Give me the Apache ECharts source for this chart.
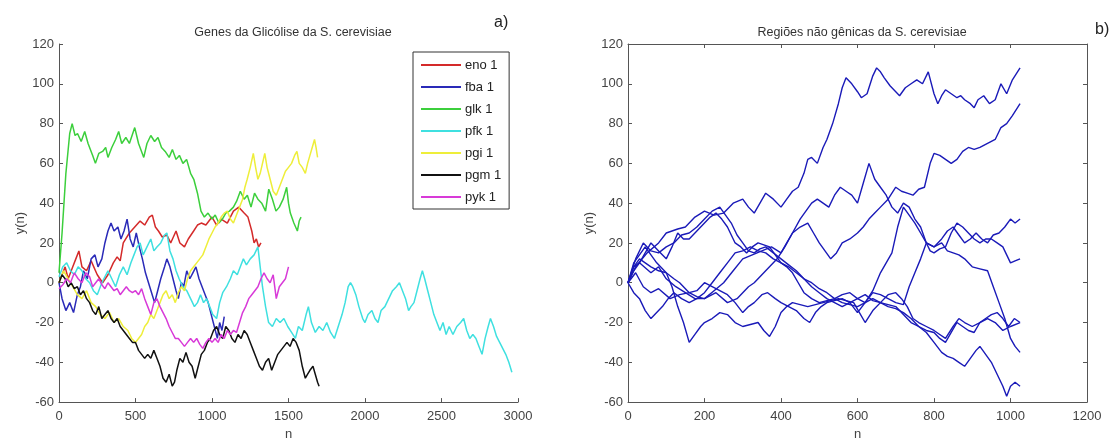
<!DOCTYPE html>
<html><head><meta charset="utf-8">
<script src="https://cdn.jsdelivr.net/npm/echarts@6/dist/echarts.min.js"></script>
<style>html,body{margin:0;padding:0;background:#fff}#c{width:1111px;height:446px}</style>
</head><body><div id="c"></div>
<script>
// ---- left panel: glycolysis genes (n, y(n)) ----
const seriesNamesLeft = ['eno 1','fba 1','glk 1','pfk 1','pgi 1','pgm 1','pyk 1'];
const eno = [[0,0],[20,4],[40,8],[60,2],[85,7],[110,12],[130,16],[150,8],[180,6],[210,11],[250,4],[285,0],[320,4],[355,10],[380,13],[400,11],[420,20],[460,25],[495,28],[530,31],[560,29],[590,33],[610,34],[630,28],[650,26],[675,23],[705,24],[730,20],[765,26],[790,20],[820,18],[845,22],[880,26],[905,29],[930,30],[960,29],[1000,33],[1030,29],[1060,32],[1100,30],[1140,36],[1175,38],[1210,35],[1235,33],[1260,26],[1275,20],[1290,22],[1305,18],[1320,20]];
const fba = [[0,0],[20,-8],[45,-14],[70,-10],[95,-15],[120,-6],[140,-2],[160,6],[185,2],[210,12],[235,14],[255,8],[280,12],[300,20],[320,26],[340,30],[360,26],[385,28],[405,22],[425,26],[445,32],[465,22],[485,18],[505,25],[525,18],[545,12],[565,5],[585,0],[605,-5],[625,-10],[645,-4],[665,2],[690,8],[705,12],[725,8],[745,2],[765,-4],[780,-8],[800,0],[815,-2],[835,6],[855,2],[875,5],[895,8],[915,2],[935,-2],[955,-6],[975,-10],[995,-16],[1015,-22],[1035,-28],[1050,-20],[1065,-24],[1080,-17]];
const glk = [[0,5],[20,25],[45,55],[70,75],[86,80],[105,74],[121,75],[145,71],[168,76],[190,70],[203,71],[220,64],[238,60],[260,65],[285,66],[305,68],[320,63],[345,68],[370,72],[390,76],[410,70],[437,73],[460,70],[495,78],[520,70],[554,63],[575,70],[600,74],[625,71],[647,73],[670,68],[694,66],[720,63],[741,67],[765,62],[787,64],[810,60],[834,62],[860,55],[881,52],[905,45],[928,36],[950,33],[974,35],[1000,32],[1021,34],[1045,30],[1068,32],[1090,35],[1114,36],[1140,38],[1161,41],[1185,46],[1210,42],[1231,44],[1255,38],[1278,45],[1300,42],[1325,40],[1350,36],[1371,47],[1395,42],[1418,36],[1440,38],[1465,42],[1488,48],[1500,40],[1512,35],[1535,30],[1558,26],[1570,31],[1582,33]];
const pfk = [[0,3],[25,8],[50,10],[75,6],[100,4],[125,8],[150,6],[175,2],[200,0],[225,-4],[250,-6],[280,0],[300,3],[320,6],[345,2],[370,-2],[395,4],[420,8],[445,4],[470,10],[490,14],[510,18],[530,20],[550,14],[575,18],[600,22],[620,16],[640,18],[665,20],[690,24],[705,25],[725,16],[745,12],[765,6],[785,2],[810,-2],[835,-4],[860,-8],[885,-12],[905,-10],[925,-6],[945,-10],[965,-8],[985,-12],[1005,-16],[1030,-18],[1050,-10],[1070,-5],[1095,-2],[1120,2],[1140,6],[1165,4],[1185,8],[1205,12],[1225,9],[1250,12],[1275,14],[1300,18],[1315,8],[1330,-2],[1350,-12],[1370,-20],[1395,-22],[1420,-18],[1445,-20],[1470,-18],[1495,-22],[1520,-25],[1545,-28],[1565,-22],[1590,-24],[1615,-16],[1630,-12],[1650,-20],[1675,-25],[1700,-22],[1725,-24],[1750,-20],[1775,-25],[1800,-28],[1825,-22],[1850,-16],[1870,-10],[1890,-2],[1905,0],[1920,-2],[1940,-6],[1960,-12],[1985,-18],[2000,-20],[2020,-16],[2045,-14],[2065,-18],[2085,-20],[2105,-14],[2130,-12],[2155,-8],[2180,-4],[2205,-2],[2225,0],[2245,-4],[2265,-8],[2285,-14],[2300,-12],[2320,-10],[2340,-4],[2360,2],[2375,6],[2390,2],[2410,-4],[2430,-10],[2450,-16],[2470,-20],[2490,-24],[2510,-20],[2530,-26],[2550,-22],[2575,-26],[2600,-22],[2625,-20],[2645,-18],[2665,-24],[2685,-28],[2705,-26],[2725,-28],[2745,-32],[2765,-36],[2785,-28],[2805,-22],[2820,-18],[2840,-22],[2860,-27],[2880,-30],[2900,-33],[2920,-36],[2940,-40],[2960,-45]];
const pgi = [[0,0],[30,6],[60,2],[90,-2],[120,-6],[150,-8],[180,-4],[210,-10],[240,-12],[270,-16],[300,-18],[330,-15],[360,-20],[390,-18],[420,-22],[450,-24],[475,-28],[500,-30],[520,-28],[540,-26],[560,-22],[580,-20],[600,-16],[620,-18],[640,-14],[660,-10],[680,-6],[700,-4],[720,-8],[740,-6],[760,-10],[780,-5],[800,-2],[820,-4],[840,2],[860,6],[880,8],[900,10],[920,12],[940,14],[960,18],[980,22],[1000,25],[1020,28],[1040,30],[1060,33],[1080,35],[1100,36],[1120,32],[1140,30],[1160,34],[1180,38],[1200,42],[1215,48],[1230,52],[1250,58],[1270,65],[1285,58],[1300,52],[1315,55],[1330,60],[1345,65],[1360,58],[1380,52],[1400,46],[1420,44],[1440,48],[1460,52],[1480,56],[1500,58],[1520,60],[1540,64],[1555,66],[1570,60],[1590,58],[1610,55],[1625,60],[1640,64],[1655,68],[1670,72],[1680,68],[1690,63]];
const pgm = [[0,0],[20,4],[40,2],[60,-2],[80,0],[100,-3],[120,-2],[140,-6],[160,-4],[180,-8],[200,-10],[220,-14],[240,-16],[260,-12],[280,-18],[300,-16],[320,-14],[340,-18],[360,-20],[380,-18],[400,-22],[420,-24],[440,-26],[460,-28],[480,-30],[500,-30],[520,-34],[540,-36],[560,-38],[580,-36],[600,-38],[620,-34],[640,-38],[660,-42],[680,-48],[700,-50],[720,-46],[740,-52],[755,-50],[770,-44],[790,-38],[810,-40],[830,-35],[850,-40],[870,-42],[890,-48],[910,-42],[930,-36],[950,-34],[970,-30],[990,-28],[1010,-24],[1030,-22],[1050,-26],[1070,-28],[1090,-22],[1110,-24],[1130,-28],[1150,-30],[1170,-26],[1190,-28],[1210,-24],[1230,-26],[1250,-30],[1270,-34],[1290,-38],[1310,-42],[1330,-44],[1350,-40],[1370,-38],[1390,-44],[1410,-40],[1430,-36],[1450,-34],[1470,-32],[1490,-30],[1510,-32],[1530,-28],[1550,-30],[1570,-34],[1590,-42],[1610,-48],[1625,-46],[1640,-44],[1660,-42],[1675,-46],[1690,-50],[1700,-52]];
const pyk = [[0,-3],[25,-1],[50,2],[75,0],[100,5],[125,2],[150,0],[175,5],[200,3],[220,-2],[240,0],[260,2],[280,-1],[300,-3],[320,0],[340,-2],[360,-4],[380,-3],[400,-6],[420,-4],[440,-2],[460,-4],[480,-5],[500,-4],[520,-6],[540,-3],[560,-8],[580,-12],[600,-16],[620,-10],[640,-8],[660,-12],[680,-15],[700,-18],[720,-22],[740,-25],[760,-28],[780,-28],[800,-30],[820,-32],[840,-30],[860,-28],[880,-30],[900,-28],[920,-31],[940,-33],[960,-30],[980,-28],[1000,-30],[1020,-28],[1040,-30],[1060,-26],[1080,-28],[1100,-24],[1120,-26],[1140,-24],[1160,-25],[1180,-20],[1200,-15],[1220,-12],[1240,-8],[1260,-6],[1280,-4],[1300,-2],[1320,2],[1340,5],[1360,2],[1380,0],[1400,4],[1420,-8],[1440,-2],[1460,0],[1480,2],[1500,8]];
const colorsLeft = ['#d42a2a','#2a2ab8','#3ccf3c','#3fe0e0','#eeee3a','#111111','#d83ad8'];

// ---- right panel: non-genic regions ----
const r1 = [[0,0],[20,8],[50,15],[80,20],[100,25],[130,27],[150,28],[175,33],[200,36],[225,34],[250,35],[275,40],[300,42],[315,38],[330,35],[345,40],[360,45],[380,42],[400,38],[415,42],[430,46],[445,48],[460,55],[470,62],[480,63],[495,60],[510,68],[520,72],[535,80],[550,90],[560,98],[570,103],[585,100],[600,96],[610,93],[625,95],[640,104],[650,108],[660,106],[670,103],[685,99],[700,96],[710,94],[725,98],[740,100],[755,102],[770,100],[785,106],[800,95],[810,90],[820,94],[830,97],[845,95],[860,93],[870,94],[880,92],[895,90],[905,88],[915,92],[930,94],[945,90],[960,92],[975,100],[990,95],[1005,102],[1025,108]];
const r2 = [[0,0],[15,8],[30,10],[60,5],[80,8],[100,2],[125,-2],[150,-5],[175,-8],[200,-8],[225,-4],[250,0],[275,6],[300,12],[325,14],[350,16],[375,18],[400,15],[415,20],[430,25],[450,28],[470,30],[485,25],[500,20],[515,16],[530,12],[545,15],[560,20],[580,22],[600,25],[615,28],[630,32],[645,35],[660,38],[680,42],[700,48],[715,46],[730,45],[745,44],[760,47],[775,48],[790,60],[800,65],[815,64],[830,62],[845,60],[860,62],[875,66],[890,68],[905,67],[920,68],[940,70],[960,72],[975,78],[990,80],[1005,84],[1025,90]];
const r3 = [[0,0],[20,5],[40,-2],[60,-5],[80,-3],[110,-8],[135,-6],[160,-5],[180,-7],[200,-8],[230,-5],[260,-10],[285,-8],[300,-5],[315,-2],[330,0],[350,4],[370,8],[390,12],[410,18],[430,25],[450,32],[465,36],[480,40],[495,42],[510,40],[525,38],[540,44],[555,48],[570,46],[585,44],[600,40],[615,50],[630,60],[645,52],[660,48],[675,44],[690,38],[705,35],[720,40],[735,38],[750,32],[765,28],[780,20],[800,18],[820,20],[835,16],[850,15],[865,14],[880,12],[900,8],[920,7],[940,6],[955,-2],[970,-10],[985,-18],[1000,-28],[1012,-32],[1025,-35]];
const r4 = [[0,0],[15,10],[30,14],[45,18],[60,14],[75,10],[100,5],[120,2],[135,0],[160,-5],[180,-4],[200,0],[220,-2],[240,-4],[260,-6],[280,-10],[300,-15],[315,-12],[330,-10],[350,-6],[365,-5],[385,-8],[400,-10],[420,-12],[440,-14],[460,-18],[475,-20],[490,-15],[505,-12],[520,-10],[540,-9],[560,-8],[580,-10],[600,-15],[620,-10],[640,-5],[660,-6],[680,-8],[700,-10],[720,-11],[735,-2],[750,5],[765,12],[780,20],[800,18],[820,22],[835,26],[850,28],[865,24],[880,20],[895,22],[910,25],[925,22],[940,20],[955,24],[970,25],[985,28],[1000,32],[1012,30],[1025,32]];
const r5 = [[0,0],[15,6],[30,10],[45,15],[60,20],[80,16],[100,12],[115,18],[130,25],[145,22],[160,22],[180,26],[200,30],[215,33],[230,35],[245,32],[260,28],[270,24],[280,20],[295,18],[310,15],[325,18],[340,20],[355,19],[370,18],[385,14],[400,10],[415,8],[430,5],[445,0],[460,-5],[480,-8],[500,-10],[520,-9],[540,-8],[560,-6],[580,-5],[600,-8],[620,-10],[640,-4],[660,5],[675,10],[690,15],[705,28],[720,38],[735,34],[750,30],[765,25],[780,20],[790,16],[800,15],[815,17],[830,18],[845,25],[860,30],[875,28],[890,25],[905,22],[920,20],[935,22],[950,22],[965,20],[980,18],[990,14],[1000,10],[1012,11],[1025,12]];
const r6 = [[0,0],[15,-5],[30,-8],[45,-14],[60,-18],[75,-15],[90,-12],[105,-8],[120,-5],[140,-8],[160,-10],[180,-8],[200,-5],[220,0],[240,5],[260,10],[280,15],[300,16],[320,18],[340,16],[360,15],[380,12],[400,10],[420,8],[440,5],[460,2],[480,0],[500,-3],[520,-5],[540,-8],[560,-10],[580,-11],[600,-12],[620,-10],[640,-8],[660,-10],[680,-12],[700,-13],[720,-15],[740,-18],[760,-22],[780,-24],[800,-25],[815,-28],[830,-30],[845,-25],[860,-20],[875,-22],[890,-24],[905,-25],[920,-20],[935,-18],[950,-16],[965,-15],[980,-18],[995,-22],[1010,-18],[1025,-20]];
const r7 = [[0,0],[15,8],[30,12],[45,10],[60,8],[80,6],[100,5],[115,-2],[130,-12],[145,-20],[160,-30],[175,-26],[190,-22],[200,-20],[220,-18],[240,-15],[260,-16],[280,-20],[300,-22],[320,-21],[340,-20],[355,-24],[370,-27],[385,-22],[400,-15],[415,-12],[430,-10],[450,-11],[470,-12],[490,-11],[510,-10],[530,-9],[550,-8],[570,-9],[590,-10],[605,-15],[620,-20],[640,-14],[660,-10],[680,-11],[700,-12],[720,-16],[740,-20],[760,-22],[780,-25],[800,-30],[820,-35],[835,-37],[850,-38],[865,-40],[880,-42],[895,-38],[910,-34],[920,-32],[935,-36],[950,-40],[965,-46],[980,-52],[990,-57],[1000,-52],[1012,-50],[1025,-52]];
const r8 = [[0,0],[20,12],[40,20],[60,16],[80,15],[100,18],[120,20],[140,24],[160,25],[180,28],[200,32],[220,36],[240,38],[255,34],[270,30],[285,24],[300,20],[315,16],[330,15],[345,17],[360,18],[380,15],[400,12],[420,9],[440,6],[460,2],[480,-2],[500,-5],[520,-8],[540,-10],[560,-12],[580,-10],[600,-8],[620,-6],[640,-9],[660,-10],[680,-6],[700,-5],[715,-8],[730,-12],[745,-18],[760,-20],[780,-22],[800,-24],[815,-26],[830,-28],[850,-22],[865,-18],[880,-20],[900,-22],[920,-20],[940,-18],[960,-20],[980,-24],[1000,-22],[1025,-20]];
const rightSeries = [r1,r2,r3,r4,r5,r6,r7,r8];

// ---- axis ticks ----
const yMin = -60, yMax = 120, yStep = 20;
const xLeftMax = 3000, xLeftStep = 500;
const xRightMax = 1200, xRightStep = 200;

const leftData = [eno,fba,glk,pfk,pgi,pgm,pyk];
const FONT = 'Liberation Sans, Arial, sans-serif';
const axisCol = '#555';
const lbl = {color:'#444', fontSize:13, fontFamily:FONT, formatter:v=>String(v)};

const chart = echarts.init(document.getElementById('c'), null, {renderer:'canvas'});
const series = [];
leftData.forEach((d,i)=>series.push({
  name: seriesNamesLeft[i], type:'line', data:d, xAxisIndex:0, yAxisIndex:0,
  symbol:'none', lineStyle:{width:1.5, color:colorsLeft[i]}, itemStyle:{color:colorsLeft[i]},
  silent:true, animation:false
}));
rightSeries.forEach(d=>series.push({
  type:'line', data:d, xAxisIndex:1, yAxisIndex:1,
  symbol:'none', lineStyle:{width:1.4, color:'#1a1ab8'}, silent:true, animation:false
}));

const mkX = (grid, max, step, extra) => Object.assign({
  type:'value', gridIndex:grid, min:0, max:max, interval:step,
  axisLine:{show:true, onZero:false, lineStyle:{color:axisCol, width:1}},
  axisTick:{show:true, inside:true, length:4, lineStyle:{color:axisCol}},
  axisLabel:Object.assign({margin:8}, lbl),
  splitLine:{show:false},
  name:'n', nameLocation:'middle', nameGap:25,
  nameTextStyle:{color:'#444', fontSize:13, fontFamily:FONT}
}, extra||{});
const mkY = (grid, extra) => Object.assign({
  type:'value', gridIndex:grid, min:yMin, max:yMax, interval:yStep,
  axisLine:{show:true, onZero:false, lineStyle:{color:axisCol, width:1}},
  axisTick:{show:true, inside:true, length:4, lineStyle:{color:axisCol}},
  axisLabel:Object.assign({margin:5}, lbl),
  splitLine:{show:false},
  name:'y(n)', nameLocation:'middle', nameGap:32, nameRotate:90,
  nameTextStyle:{color:'#444', fontSize:13, fontFamily:FONT}
}, extra||{});

chart.setOption({
  backgroundColor:'#fff',
  animation:false,
  title:[
    {text:'Genes da Glicólise da S. cerevisiae', left:288, top:21, textAlign:'center',
     textStyle:{fontSize:12.5, fontWeight:'normal', color:'#333', fontFamily:FONT}},
    {text:'Regiões não gênicas da S. cerevisiae', left:857, top:21, textAlign:'center',
     textStyle:{fontSize:12.5, fontWeight:'normal', color:'#333', fontFamily:FONT}},
    {text:'a)', left:489, top:10, textStyle:{fontSize:16, fontWeight:'normal', color:'#222', fontFamily:FONT}},
    {text:'b)', left:1090, top:17, textStyle:{fontSize:16, fontWeight:'normal', color:'#222', fontFamily:FONT}}
  ],
  legend:{
    data:seriesNamesLeft, orient:'vertical', left:413, top:52,
    icon:'rect', itemWidth:40, itemHeight:2, itemGap:8,
    padding:[6,8,5,8], borderColor:'#333', borderWidth:1, backgroundColor:'#fff',
    textStyle:{fontSize:13, color:'#222', fontFamily:FONT, lineHeight:14, padding:[0,0,0,-1]},
    selectedMode:false
  },
  grid:[
    {left:59, top:44, width:459, height:363},
    {left:628, top:44, width:459, height:363}
  ],
  xAxis:[
    mkX(0, xLeftMax, xLeftStep),
    mkX(1, xRightMax, xRightStep),
    mkX(1, xRightMax, xRightStep, {position:'top', name:'', axisLabel:{show:false}})
  ],
  yAxis:[
    mkY(0),
    mkY(1),
    mkY(1, {position:'right', name:'', axisLabel:{show:false}})
  ],
  series:series
});
</script></body></html>
